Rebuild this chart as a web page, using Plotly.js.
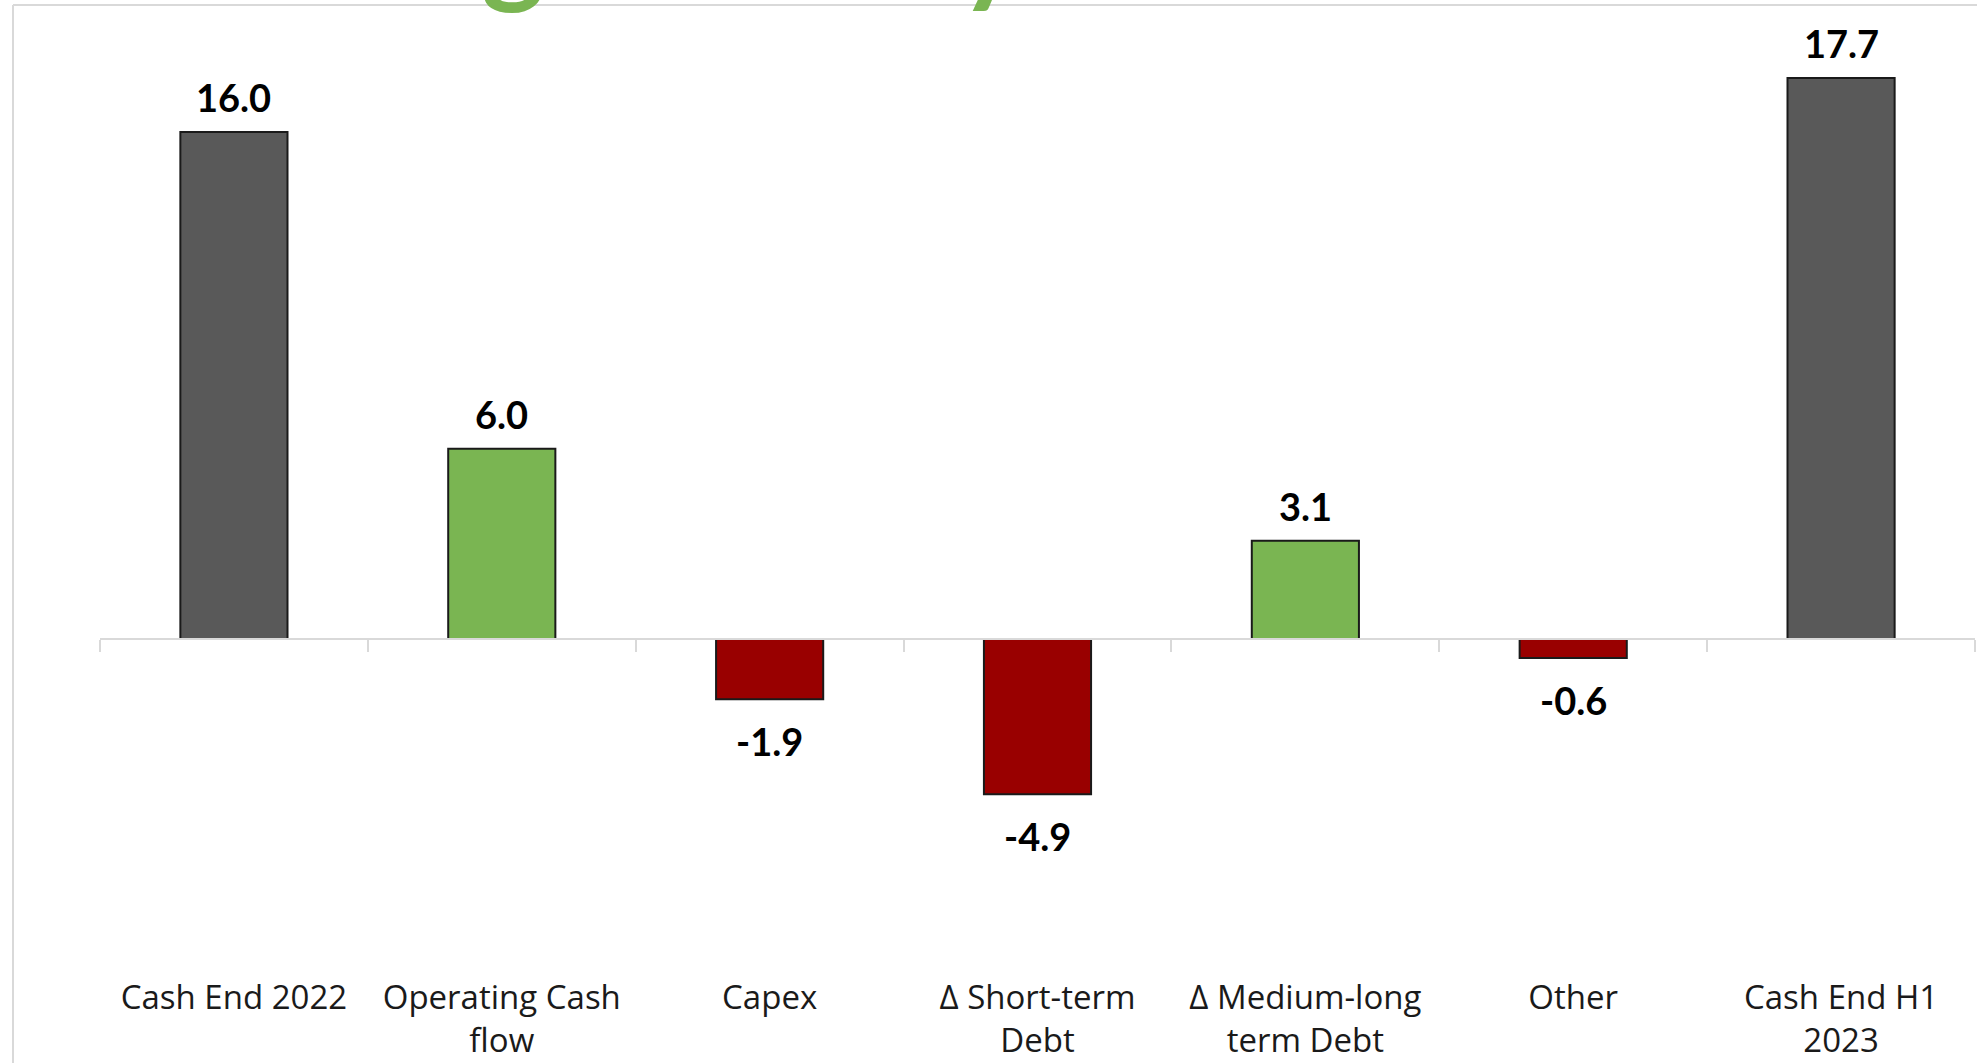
<!DOCTYPE html>
<html>
<head>
<meta charset="utf-8">
<script src="https://cdn.plot.ly/plotly-3.0.1.min.js"></script>
<style>
  html, body { margin: 0; padding: 0; background: #ffffff; }
  #chart { width: 1977px; height: 1063px; }
</style>
</head>
<body>
<div id="chart"></div>
<script>
// ---- data ----
const categories = [
  'Cash End 2022',
  'Operating Cash<br>flow',
  'Capex',
  'Δ Short-term<br>Debt',
  'Δ Medium-long<br>term Debt',
  'Other',
  'Cash End H1<br>2023'
];
const values = [16.0, 6.0, -1.9, -4.9, 3.1, -0.6, 17.7];
const valueLabels = ['16.0', '6.0', '-1.9', '-4.9', '3.1', '-0.6', '17.7'];
const kinds = ['total', 'change', 'change', 'change', 'change', 'change', 'total'];
const titleText = 'Strong Delivery';

// ---- styling ----
const W = 1977, H = 1063;
const M = { l: 100, r: 2, t: 20, b: 88 };
const yMin = -10.6, yMax = 19.53;
const colTotal = '#595959', colUp = '#7ab552', colDown = '#990000';

const barColors = values.map((v, i) =>
  kinds[i] === 'total' ? colTotal : (v >= 0 ? colUp : colDown));

const plotW = W - M.l - M.r, plotH = H - M.t - M.b;
const px2paperX = px => (px - M.l) / plotW;
const px2paperY = py => 1 - (py - M.t) / plotH;
const zeroPos = (0 - yMin) / (yMax - yMin);

const bars = {
  type: 'bar',
  x: categories,
  y: values,
  width: 0.4,
  marker: { color: barColors, line: { color: '#1a1a1a', width: 2 } },
  hoverinfo: 'x+y',
  showlegend: false
};

const dummy = {
  type: 'scatter',
  x: categories,
  y: values,
  xaxis: 'x2',
  mode: 'markers',
  marker: { opacity: 0 },
  hoverinfo: 'skip',
  showlegend: false
};

const valueAnnotations = values.map((v, i) => ({
  x: categories[i],
  y: v,
  xref: 'x',
  yref: 'y',
  text: valueLabels[i],
  showarrow: false,
  xanchor: 'center',
  yanchor: 'middle',
  yshift: v >= 0 ? 35 : -42,
  font: { family: 'Lato, "Open Sans", sans-serif', size: 38, color: '#000000', weight: 'bold' }
}));

const titleAnnotation = {
  xref: 'paper', yref: 'paper',
  x: px2paperX(192), y: px2paperY(19),
  xanchor: 'left', yanchor: 'bottom',
  text: '<b>' + titleText + '</b>',
  showarrow: false,
  font: { family: 'Lato, sans-serif', size: 120, color: '#7ab552' }
};

const frameColor = '#d9d9d9';
const shapes = [
  { type: 'line', xref: 'paper', yref: 'paper',
    x0: px2paperX(13), x1: px2paperX(W + 5), y0: px2paperY(5), y1: px2paperY(5),
    line: { color: frameColor, width: 2 }, layer: 'below' },
  { type: 'line', xref: 'paper', yref: 'paper',
    x0: px2paperX(13), x1: px2paperX(13), y0: px2paperY(5), y1: px2paperY(H + 5),
    line: { color: frameColor, width: 2 }, layer: 'below' }
];

const layout = {
  width: W,
  height: H,
  margin: M,
  paper_bgcolor: '#ffffff',
  plot_bgcolor: 'rgba(0,0,0,0)',
  showlegend: false,
  xaxis: {
    type: 'category',
    categoryorder: 'array',
    categoryarray: categories,
    range: [-0.5, categories.length - 0.5],
    showline: false,
    showgrid: false,
    zeroline: false,
    ticks: '',
    tickfont: { family: '"Open Sans", Lato, sans-serif', size: 33, color: '#1a1a1a' },
    fixedrange: true
  },
  xaxis2: {
    type: 'category',
    overlaying: 'x',
    anchor: 'free',
    position: zeroPos,
    categoryorder: 'array',
    categoryarray: categories,
    range: [-0.5, categories.length - 0.5],
    showticklabels: false,
    showline: true,
    linecolor: '#d9d9d9',
    linewidth: 2,
    ticks: 'outside',
    tickson: 'boundaries',
    ticklen: 12,
    tickwidth: 2,
    tickcolor: '#d9d9d9',
    showgrid: false,
    zeroline: false,
    fixedrange: true
  },
  yaxis: {
    range: [yMin, yMax],
    visible: false,
    showgrid: false,
    zeroline: false,
    fixedrange: true
  },
  annotations: valueAnnotations.concat([titleAnnotation]),
  shapes: shapes
};

Plotly.newPlot('chart', [bars, dummy], layout, { displayModeBar: false, staticPlot: true });
</script>
</body>
</html>
